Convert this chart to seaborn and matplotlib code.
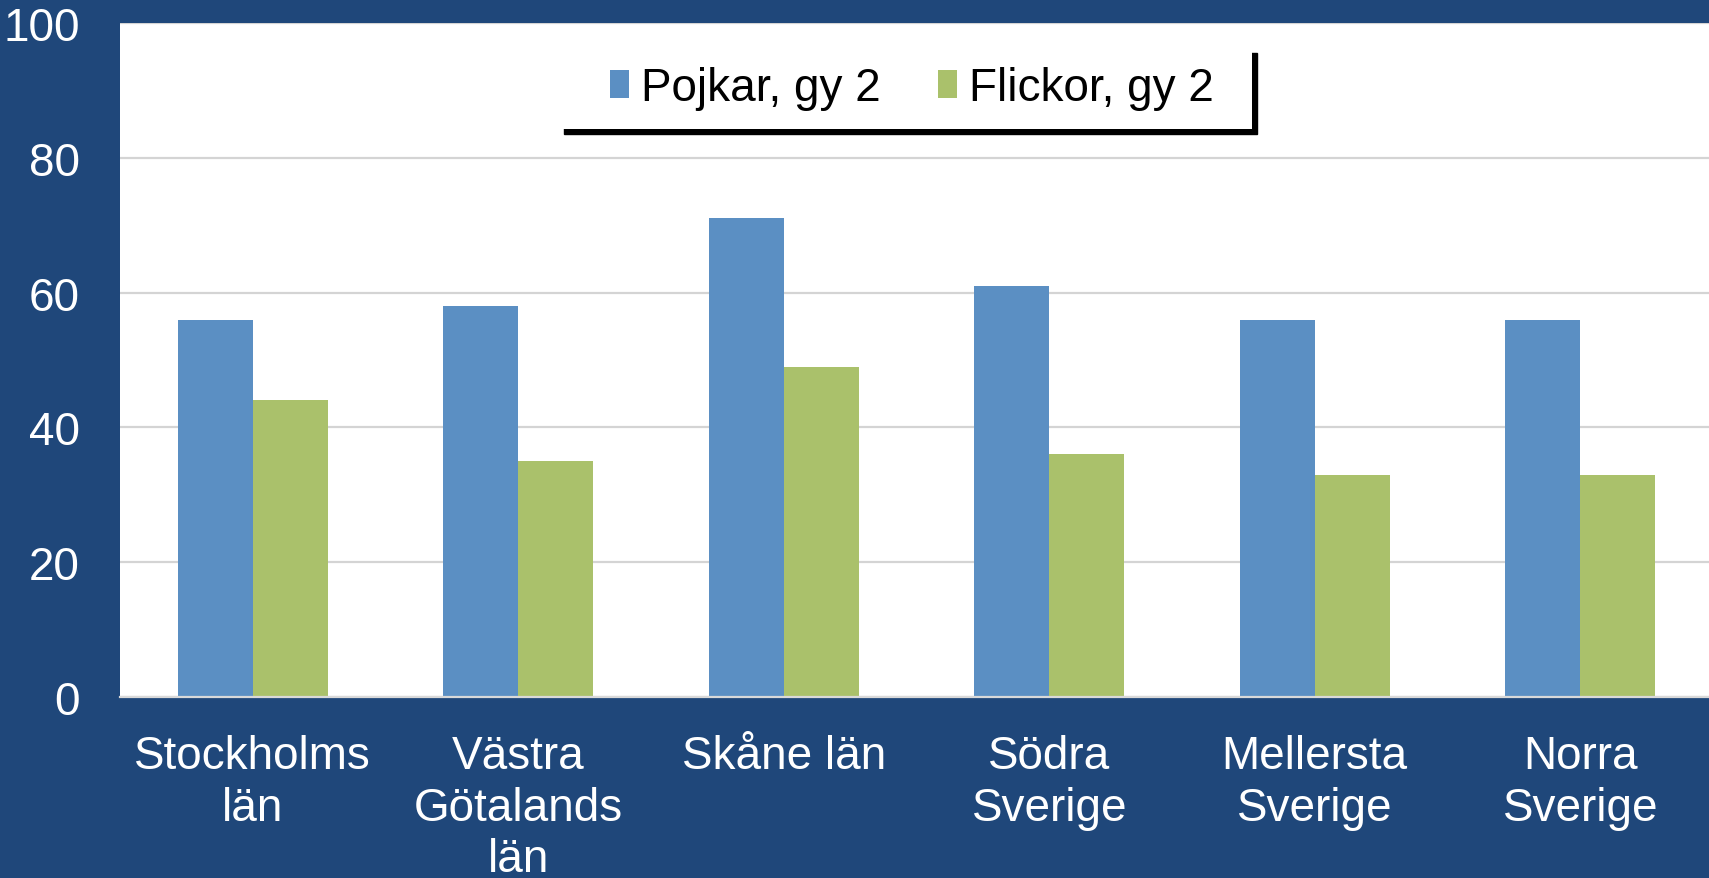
import pandas as pd
import matplotlib
matplotlib.use("Agg")
import matplotlib.pyplot as plt
import matplotlib.patches as mpatches
from matplotlib.transforms import IdentityTransform
import seaborn as sns

# values
regioner = ["Stockholms\nlän", "Västra\nGötalands\nlän", "Skåne län",
            "Södra\nSverige", "Mellersta\nSverige", "Norra\nSverige"]
pojkar = [56, 58, 71, 61, 56, 56]
flickor = [44, 35, 49, 36, 33, 33]
serier = ["Pojkar, gy 2", "Flickor, gy 2"]
yticks = [0, 20, 40, 60, 80, 100]

navy = "#1F477A"
farger = ["#5B8FC3", "#AAC16B"]

df = pd.DataFrame({"region": regioner * 2,
                   "serie": [serier[0]] * 6 + [serier[1]] * 6,
                   "varde": pojkar + flickor})

sns.set_style("white")
plt.rcParams['font.family'] = ['Liberation Sans', 'DejaVu Sans']

fig = plt.figure(figsize=(17.09, 8.79), dpi=100, facecolor=navy)
ax = fig.add_axes([120 / 1709, 181 / 879, 1593 / 1709, 674 / 879])
ax.set_facecolor("white")

sns.barplot(data=df, x="region", y="varde", hue="serie", order=regioner,
            hue_order=serier, palette=farger, width=0.566, saturation=1,
            ax=ax, linewidth=0)

ax.set_ylim(0, 100)
ax.set_xlim(-0.5, 5.5)
ax.set_yticks(yticks)
ax.yaxis.grid(True, color="#D4D4D4", linewidth=1.6)
ax.set_axisbelow(True)
ax.set_xlabel("")
ax.set_ylabel("")

for s in ["left", "right", "top"]:
    ax.spines[s].set_visible(False)
ax.spines["bottom"].set_color("#D9D9D9")
ax.spines["bottom"].set_linewidth(1.6)

ax.tick_params(axis="y", length=0, pad=29, labelsize=33, labelcolor="white")
ax.tick_params(axis="x", which="major", length=0, pad=26.5, labelsize=33,
               labelcolor="white")
ax.set_xticks([i - 0.5 for i in range(7)], minor=True)
ax.tick_params(axis="x", which="minor", length=8, width=1.6, color="#D9D9D9",
               direction="out")
for t in ax.get_xticklabels():
    t.set_linespacing(1.23)

leg = ax.legend(loc="upper center", bbox_to_anchor=(0.497, 0.96), ncol=2,
                fontsize=33, frameon=False, labelcolor="black",
                handlelength=0.42, handleheight=0.55, handletextpad=0.25,
                columnspacing=1.25, borderpad=0.35, borderaxespad=0)
leg.set_zorder(6)

# legend box: white, wider than the entries, black drop shadow right/bottom
fig.canvas.draw()
bb = leg.get_window_extent(fig.canvas.get_renderer())
ruta = mpatches.Rectangle((bb.x0 - 35, bb.y0 - 3), bb.width + 58, bb.height + 5,
                          transform=IdentityTransform(), facecolor="white",
                          edgecolor="none", zorder=5)
skugga = mpatches.Shadow(ruta, 3.3, -3.3, color="black", alpha=1, zorder=4.9)
ax.add_artist(skugga)
ax.add_artist(ruta)

fig.savefig("out.png", dpi=100, facecolor=navy)
